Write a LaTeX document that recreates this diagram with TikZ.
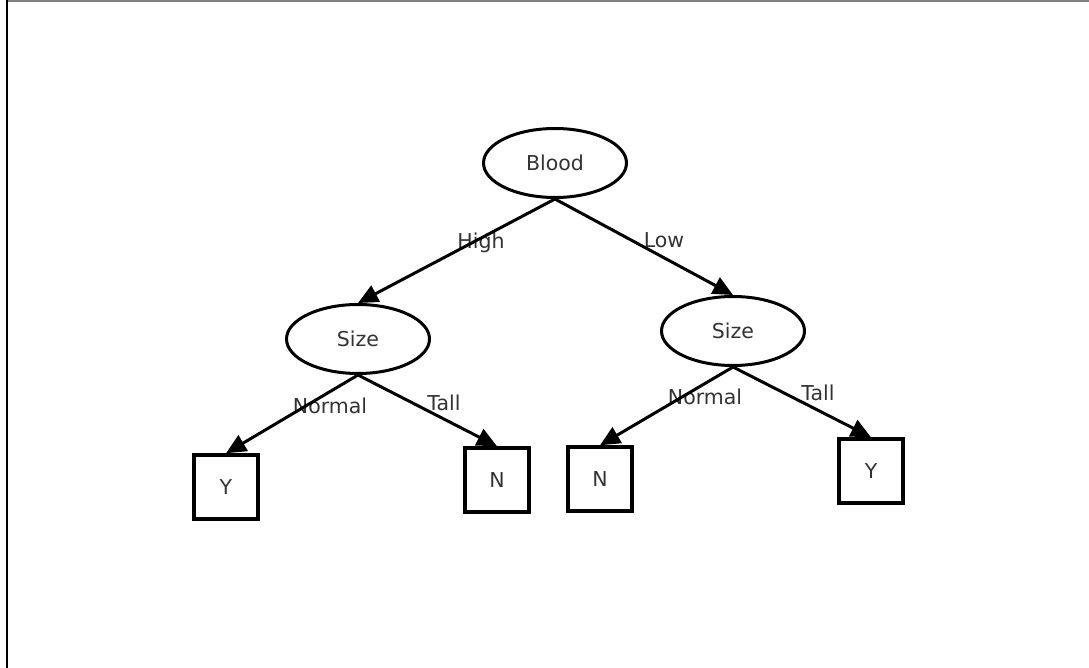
\documentclass[tikz,border=0pt]{standalone}
\usepackage{fontspec}
\setmainfont{DejaVu Sans}
\usetikzlibrary{shapes.geometric, arrows.meta}

\begin{document}
\begin{tikzpicture}[->, >={Triangle[length=20pt,width=18pt]}, x=1pt, y=-1pt,
  font=\fontsize{20.5}{24}\selectfont]
\tikzstyle{q} = [ellipse, draw=black, line width=3pt, minimum width=143pt, minimum height=69pt, inner sep=0pt, text=black!80]
\tikzstyle{leaf} = [rectangle, draw=black, line width=3.5pt, minimum size=64pt, inner sep=0pt, text=black!80]
\tikzstyle{e} = [draw=black, line width=3pt]
\tikzstyle{lbl} = [text=black!80, inner sep=0pt]

\useasboundingbox (0,0) rectangle (1089,668);
% frame
\draw[-, gray, line width=2pt] (6,1.5) -- (1089,1.5);
\draw[-, black, line width=2pt] (6.5,0) -- (6.5,668);

\node[q] (blood) at (555, 163) {Blood};
\node[q] (sizeL) at (358, 339) {Size};
\node[q] (sizeR) at (733, 331) {Size};
\node[leaf] (yL) at (226, 487) {Y};
\node[leaf] (nL) at (497, 480) {N};
\node[leaf] (nR) at (600, 479) {N};
\node[leaf] (yR) at (871, 471) {Y};

\node[lbl] (high) at (481, 243) {High};
\node[lbl] (low) at (664, 240) {Low};
\node[lbl] (normL) at (330, 406) {Normal};
\node[lbl] (tallL) at (444, 403) {Tall};
\node[lbl] (normR) at (705, 397) {Normal};
\node[lbl] (tallR) at (818, 393) {Tall};

\draw[e] (blood.south) to (sizeL.north);
\draw[e] (blood.south) to (sizeR.north);
\draw[e] (sizeL.south) to (yL.north);
\draw[e] (sizeL.south) to (nL.north);
\draw[e] (sizeR.south) to (nR.north);
\draw[e] (sizeR.south) to (yR.north);
\end{tikzpicture}
\end{document}
